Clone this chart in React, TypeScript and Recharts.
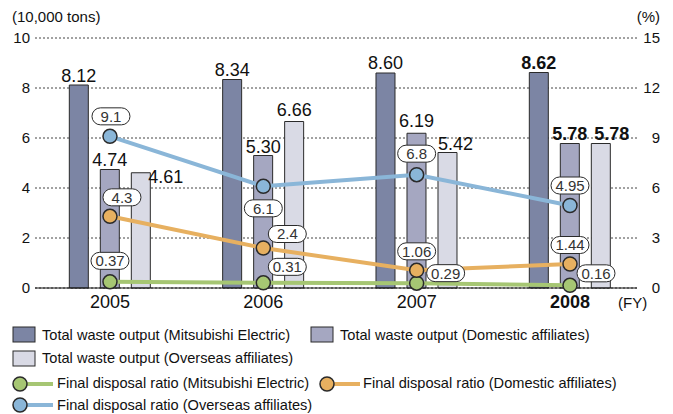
import React from "react";
import { Bar, CartesianGrid, ComposedChart, LabelList, Legend, Line, XAxis, YAxis } from "recharts";

const YEARS = ["2005", "2006", "2007", "2008"];

// total waste output (10,000 tons)
const WASTE_ME = [8.12, 8.34, 8.6, 8.62];
const WASTE_DOMESTIC = [4.74, 5.3, 6.19, 5.78];
const WASTE_OVERSEAS = [4.61, 6.66, 5.42, 5.78];

// final disposal ratio (%)
const RATIO_ME = [0.37, 0.31, 0.29, 0.16];
const RATIO_DOMESTIC = [4.3, 2.4, 1.06, 1.44];
const RATIO_OVERSEAS = [9.1, 6.1, 6.8, 4.95];

const LEFT_TICKS = [0, 2, 4, 6, 8, 10];
const RIGHT_TICKS = [0, 3, 6, 9, 12, 15];

const FONT = "'Liberation Sans', Arial, Helvetica, sans-serif";

const C_ME = "#7c85a4";
const C_DOM = "#a5a7c1";
const C_OVS = "#d9dae5";
const L_ME = "#a6c673";
const L_DOM = "#e7b060";
const L_OVS = "#8ab6d8";
const EDGE = "#2a2a2a";

// label nudges [dx, dy] (dy = baseline offset from bar top / pill centre offset from point)
const BAR_NUDGE_ME = [[0, -3], [0, -4], [0, -4], [0, -4]];
const BAR_NUDGE_DOM = [[0, -4], [0, -3], [0, -6], [0, -4]];
const BAR_NUDGE_OVS = [[25, 10], [0, -6], [8, -3], [11, -4]];
const PILL_ME = [[0, -21], [24, -16], [29, -10], [26, -12]];
const PILL_DOM = [[12, -19], [24, -14], [0, -19], [0, -19]];
const PILL_OVS = [[1, -20], [0, 22], [0, -21], [0, -20]];

const data = YEARS.map((year, i) => ({
  x: i,
  year,
  me: WASTE_ME[i],
  dom: WASTE_DOMESTIC[i],
  ovs: WASTE_OVERSEAS[i],
  rMe: RATIO_ME[i],
  rDom: RATIO_DOMESTIC[i],
  rOvs: RATIO_OVERSEAS[i],
}));

const barLabel = (nudge: number[][]) => (props: any) => {
  const { x, y, width, value, index } = props;
  const [dx, dy] = nudge[index] || [0, -4];
  return (
    <text
      x={x + width / 2 + dx}
      y={y + dy}
      textAnchor="middle"
      fontSize={18}
      fontFamily={FONT}
      fontWeight={index === YEARS.length - 1 ? "bold" : "normal"}
      fill="#111"
    >
      {Number(value).toFixed(2)}
    </text>
  );
};

const pillLabel = (nudge: number[][]) => (props: any) => {
  const { x, y, value, index } = props;
  const [dx, dy] = nudge[index] || [0, -20];
  const cx = x + dx;
  const cy = y + dy;
  return (
    <g>
      <rect x={cx - 19} y={cy - 8.5} width={38} height={17} rx={8.5} fill="#fff" stroke={EDGE} strokeWidth={1} />
      <text x={cx} y={cy} dy="0.36em" textAnchor="middle" fontSize={15} fontFamily={FONT} fill="#333">
        {String(value)}
      </text>
    </g>
  );
};

const LeftTick = (props: any) => (
  <text x={props.x} y={props.y} dy="0.36em" textAnchor="end" fontSize={15} fontFamily={FONT} fill="#111">
    {props.payload.value}
  </text>
);

const RightTick = (props: any) => (
  <text x={props.x} y={props.y} dy="0.36em" textAnchor="end" fontSize={15} fontFamily={FONT} fill="#111">
    {props.payload.value}
  </text>
);

const YearTick = (props: any) => {
  const i = props.payload.value;
  return (
    <text
      x={props.x}
      y={props.y + 20}
      textAnchor="middle"
      fontSize={18}
      fontFamily={FONT}
      fontWeight={i === YEARS.length - 1 ? "bold" : "normal"}
      fill="#111"
    >
      {YEARS[i]}
    </text>
  );
};

const LegendBox = () => {
  const txt = { fontSize: 14.6, fontFamily: FONT, fill: "#111" };
  const swatch = (x: number, y: number, fill: string) => (
    <rect x={x} y={y} width={22} height={15} fill={fill} stroke={EDGE} strokeWidth={1} />
  );
  const lineKey = (x: number, y: number, color: string) => (
    <g>
      <line x1={x} y1={y} x2={x + 33} y2={y} stroke={color} strokeWidth={4} />
      <circle cx={x} cy={y} r={7} fill={color} stroke={EDGE} strokeWidth={1.5} />
    </g>
  );
  return (
    <svg width={673} height={99} style={{ display: "block" }}>
      {swatch(13, 12, C_ME)}
      <text x={42} y={20} dy="0.36em" {...txt}>Total waste output (Mitsubishi Electric)</text>
      {swatch(311, 12, C_DOM)}
      <text x={340} y={20} dy="0.36em" {...txt}>Total waste output (Domestic affiliates)</text>
      {swatch(13, 36, C_OVS)}
      <text x={42} y={43} dy="0.36em" {...txt}>Total waste output (Overseas affiliates)</text>
      {lineKey(20, 69, L_ME)}
      <text x={57} y={68} dy="0.36em" {...txt}>Final disposal ratio (Mitsubishi Electric)</text>
      {lineKey(327, 69, L_DOM)}
      <text x={363} y={68} dy="0.36em" {...txt}>Final disposal ratio (Domestic affiliates)</text>
      {lineKey(20, 90, L_OVS)}
      <text x={57} y={90} dy="0.36em" {...txt}>Final disposal ratio (Overseas affiliates)</text>
    </svg>
  );
};

export default function App() {
  return (
    <div style={{ position: "absolute", left: 0, top: 0, width: 673, height: 414, background: "#fff" }}>
      <ComposedChart
        width={673}
        height={414}
        data={data}
        margin={{ top: 38, right: 0, bottom: 0, left: 0 }}
        barGap={12}
        style={{ fontFamily: FONT }}
      >
        <CartesianGrid yAxisId="left" vertical={false} stroke="#444" strokeDasharray="2 2" />
        <XAxis
          dataKey="x"
          type="number"
          domain={[-0.489, 3.437]}
          ticks={[0, 1, 2, 3]}
          height={126}
          tickLine={false}
          tickSize={0}
          tickMargin={0}
          axisLine={{ stroke: "#111", strokeWidth: 1.2 }}
          tick={<YearTick />}
          interval={0}
          label={{
            content: (p: any) => (
              <text x={p.viewBox.x + p.viewBox.width - 19} y={p.viewBox.y + 20} fontSize={15} fontFamily={FONT} fill="#111">
                (FY)
              </text>
            ),
          }}
        />
        <YAxis
          yAxisId="left"
          orientation="left"
          width={35}
          domain={[0, 10]}
          ticks={LEFT_TICKS}
          tickLine={false}
          axisLine={false}
          tickSize={0}
          tickMargin={5}
          tick={<LeftTick />}
          interval={0}
          label={{
            content: () => (
              <text x={12} y={22} fontSize={15} fontFamily={FONT} fill="#111">
                (10,000 tons)
              </text>
            ),
          }}
        />
        <YAxis
          yAxisId="right"
          orientation="right"
          width={36}
          domain={[0, 15]}
          ticks={RIGHT_TICKS}
          tickLine={false}
          axisLine={false}
          tickSize={0}
          tickMargin={23}
          tick={<RightTick />}
          interval={0}
          label={{
            content: () => (
              <text x={660} y={22} textAnchor="end" fontSize={15} fontFamily={FONT} fill="#111">
                (%)
              </text>
            ),
          }}
        />
        <Bar yAxisId="left" dataKey="me" name="Total waste output (Mitsubishi Electric)" fill={C_ME} stroke={EDGE} strokeWidth={1} barSize={19} isAnimationActive={false}>
          <LabelList dataKey="me" content={barLabel(BAR_NUDGE_ME)} />
        </Bar>
        <Bar yAxisId="left" dataKey="dom" name="Total waste output (Domestic affiliates)" fill={C_DOM} stroke={EDGE} strokeWidth={1} barSize={19} isAnimationActive={false}>
          <LabelList dataKey="dom" content={barLabel(BAR_NUDGE_DOM)} />
        </Bar>
        <Bar yAxisId="left" dataKey="ovs" name="Total waste output (Overseas affiliates)" fill={C_OVS} stroke={EDGE} strokeWidth={1} barSize={19} isAnimationActive={false}>
          <LabelList dataKey="ovs" content={barLabel(BAR_NUDGE_OVS)} />
        </Bar>
        <Line yAxisId="right" dataKey="rMe" name="Final disposal ratio (Mitsubishi Electric)" type="linear" stroke={L_ME} strokeWidth={4} dot={{ r: 7, fill: L_ME, stroke: EDGE, strokeWidth: 1.5 }} activeDot={false} isAnimationActive={false}>
          <LabelList dataKey="rMe" content={pillLabel(PILL_ME)} />
        </Line>
        <Line yAxisId="right" dataKey="rDom" name="Final disposal ratio (Domestic affiliates)" type="linear" stroke={L_DOM} strokeWidth={4} dot={{ r: 7, fill: L_DOM, stroke: EDGE, strokeWidth: 1.5 }} activeDot={false} isAnimationActive={false}>
          <LabelList dataKey="rDom" content={pillLabel(PILL_DOM)} />
        </Line>
        <Line yAxisId="right" dataKey="rOvs" name="Final disposal ratio (Overseas affiliates)" type="linear" stroke={L_OVS} strokeWidth={4} dot={{ r: 7, fill: L_OVS, stroke: EDGE, strokeWidth: 1.5 }} activeDot={false} isAnimationActive={false}>
          <LabelList dataKey="rOvs" content={pillLabel(PILL_OVS)} />
        </Line>
        <Legend
          layout="vertical"
          align="center"
          verticalAlign="middle"
          content={() => <LegendBox />}
          wrapperStyle={{ left: 0, top: 315, width: 673, height: 99 }}
        />
      </ComposedChart>
    </div>
  );
}
